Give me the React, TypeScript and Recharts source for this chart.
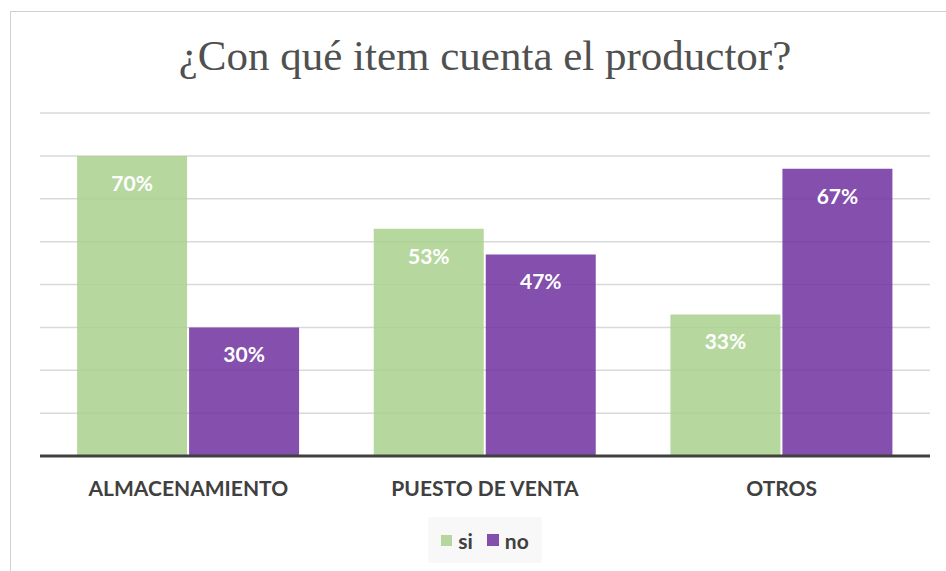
import { BarChart, Bar, XAxis, YAxis, CartesianGrid, LabelList } from "recharts";

const categories = ["ALMACENAMIENTO", "PUESTO DE VENTA", "OTROS"];
const siValues = [70, 53, 33];
const noValues = [30, 47, 67];
const yTicks = [0, 10, 20, 30, 40, 50, 60, 70, 80];

const data = categories.map((name, i) => ({ name, si: siValues[i], no: noValues[i] }));

const GREEN = "#a9d18e";
const PURPLE = "#7030a0";
const FONT = "Lato, sans-serif";

function LegendBox() {
  return (
    <div
      style={{
        position: "absolute",
        left: 428,
        top: 517,
        width: 114,
        height: 46,
        background: "#f8f8f8",
        display: "flex",
        alignItems: "center",
        justifyContent: "center",
        gap: 14,
        fontFamily: FONT,
        fontWeight: 700,
        fontSize: 21,
        color: "#404040",
      }}
    >
      <span style={{ display: "flex", alignItems: "center", gap: 6 }}>
        <span style={{ width: 11, height: 11, background: GREEN, opacity: 0.85 }} />
        si
      </span>
      <span style={{ display: "flex", alignItems: "center", gap: 6 }}>
        <span style={{ width: 12, height: 12, background: PURPLE, opacity: 0.85 }} />
        no
      </span>
    </div>
  );
}

export default function App() {
  return (
    <div style={{ position: "absolute", left: 0, top: 0, width: 946, height: 571, background: "#fff", overflow: "hidden" }}>
      <div
        style={{
          position: "absolute",
          left: 10,
          top: 11,
          width: 960,
          height: 600,
          border: "1.5px solid #d0d0d0",
        }}
      />
      <div
        style={{
          position: "absolute",
          left: 0,
          top: 31,
          width: 970,
          textAlign: "center",
          fontFamily: "'Liberation Serif', serif",
          fontSize: 43,
          color: "#505050",
        }}
      >
        ¿Con qué item cuenta el productor?
      </div>
      <BarChart
        width={946}
        height={571}
        data={data}
        margin={{ top: 113, right: 16, bottom: 85, left: 40 }}
        barCategoryGap="12.5%"
        barGap={2}
        style={{ position: "absolute", left: 0, top: 0 }}
      >
        <CartesianGrid vertical={false} stroke="#d9d9d9" strokeWidth={1.5} />
        <YAxis hide domain={[0, 80]} ticks={yTicks} />
        <XAxis
          dataKey="name"
          axisLine={{ stroke: "#404040", strokeWidth: 3 }}
          tickLine={false}
          tickMargin={19}
          tick={{ fill: "#404040", fontFamily: FONT, fontWeight: 700, fontSize: 21 }}
        />
        <Bar dataKey="si" fill={GREEN} fillOpacity={0.85} isAnimationActive={false}>
          <LabelList
            dataKey="si"
            position="insideTop"
            offset={20}
            formatter={(v: number) => `${v}%`}
            fill="#fff"
            style={{ fontFamily: FONT, fontWeight: 700, fontSize: 21 }}
          />
        </Bar>
        <Bar dataKey="no" fill={PURPLE} fillOpacity={0.85} isAnimationActive={false}>
          <LabelList
            dataKey="no"
            position="insideTop"
            offset={20}
            formatter={(v: number) => `${v}%`}
            fill="#fff"
            style={{ fontFamily: FONT, fontWeight: 700, fontSize: 21 }}
          />
        </Bar>
      </BarChart>
      <LegendBox />
    </div>
  );
}
